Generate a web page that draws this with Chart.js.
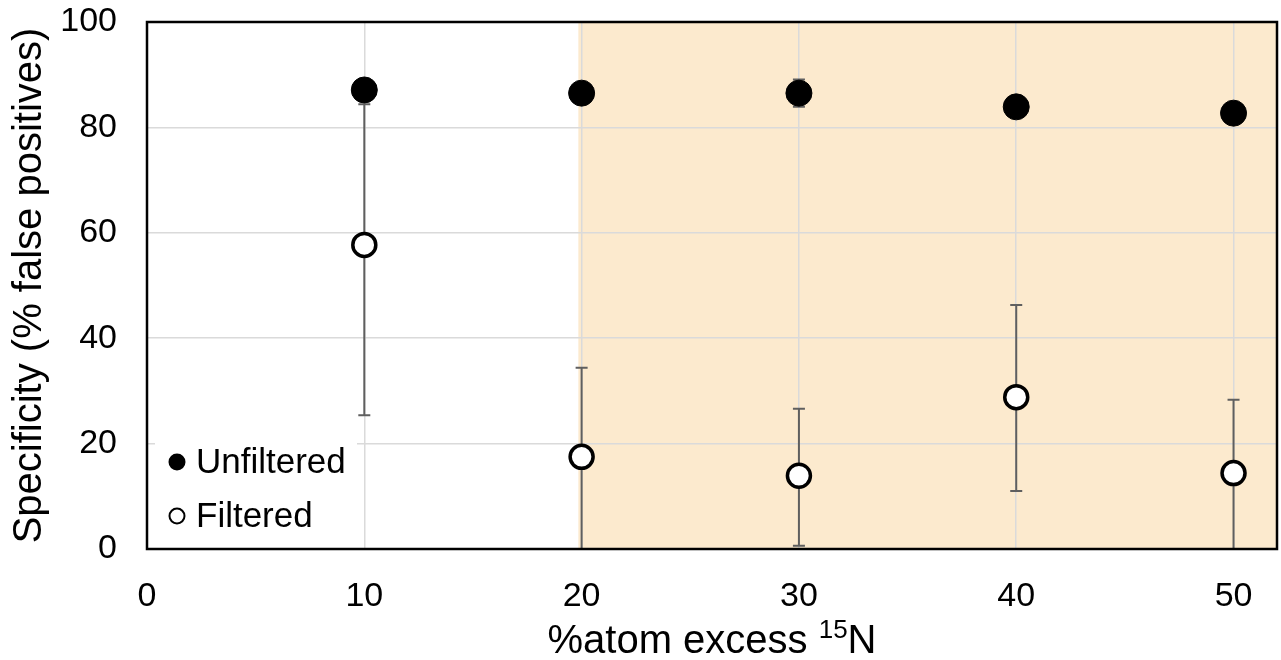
<!DOCTYPE html>
<html lang="en">
<head>
<meta charset="UTF-8">
<title>Specificity vs atom excess</title>
<script src="https://cdn.jsdelivr.net/npm/chart.js"></script>
<style>
  html, body { margin: 0; padding: 0; background: #fff; }
</style>
</head>
<body>
<canvas id="chart" width="1281" height="660"></canvas>
<script>
// %atom excess 15N and the mean specificity with its error range
const atomExcess = [10, 20, 30, 40, 50];
const unfiltered = [87.1, 86.5, 86.5, 83.9, 82.7];
const unfilteredLow = [85.1, 85.0, 83.9, 82.7, 81.7];
const unfilteredHigh = [89.1, 88.0, 89.1, 85.1, 83.7];
const filtered = [57.7, 17.5, 13.9, 28.8, 14.4];
const filteredLow = [25.4, 0, 0.6, 11.0, 0];
const filteredHigh = [84.4, 34.4, 26.6, 46.3, 28.3];
const shadedFrom = 19.85;

const FONT = "'Liberation Sans', Arial, sans-serif";

const toPoints = (ys) => atomExcess.map((x, i) => ({ x: x, y: ys[i] }));

// shaded band behind the grid
const shadePlugin = {
  id: 'shade',
  beforeDraw(chart) {
    const { ctx, chartArea: a, scales } = chart;
    const x0 = scales.x.getPixelForValue(shadedFrom);
    ctx.save();
    ctx.fillStyle = 'rgb(252,234,206)';
    ctx.fillRect(x0, a.top, a.right - x0, a.bottom - a.top);
    ctx.restore();
  }
};

// vertical error bars, drawn under the markers
const errorBarPlugin = {
  id: 'errorBars',
  beforeDatasetsDraw(chart) {
    const { ctx, chartArea: a, scales } = chart;
    ctx.save();
    ctx.beginPath();
    ctx.rect(a.left, a.top, a.right - a.left, a.bottom - a.top);
    ctx.clip();
    ctx.strokeStyle = '#5f5f5f';
    ctx.lineWidth = 2;
    chart.data.datasets.forEach((ds) => {
      ds.data.forEach((p, i) => {
        const px = scales.x.getPixelForValue(p.x);
        const yl = scales.y.getPixelForValue(ds.errLow[i]);
        const yh = scales.y.getPixelForValue(ds.errHigh[i]);
        ctx.beginPath();
        ctx.moveTo(px, yl); ctx.lineTo(px, yh);
        ctx.moveTo(px - 6, yl); ctx.lineTo(px + 6, yl);
        ctx.moveTo(px - 6, yh); ctx.lineTo(px + 6, yh);
        ctx.stroke();
      });
    });
    ctx.restore();
  }
};

// frame, legend box and x axis title with superscript
const decorPlugin = {
  id: 'decor',
  afterDraw(chart) {
    const { ctx, chartArea: a } = chart;
    ctx.save();
    ctx.strokeStyle = '#000';
    ctx.lineWidth = 2.5;
    ctx.strokeRect(a.left, a.top, a.right - a.left, a.bottom - a.top);

    // legend
    ctx.fillStyle = '#fff';
    ctx.fillRect(a.left + 8, 436, 202, a.bottom - 438);
    ctx.font = '35px ' + FONT;
    ctx.textBaseline = 'middle';
    chart.data.datasets.forEach((ds, i) => {
      const cy = 462 + i * 54;
      ctx.beginPath();
      ctx.arc(a.left + 30, cy, 7.5, 0, Math.PI * 2);
      ctx.fillStyle = ds.backgroundColor;
      ctx.fill();
      ctx.lineWidth = 2;
      ctx.strokeStyle = '#000';
      ctx.stroke();
      ctx.fillStyle = '#000';
      ctx.fillText(ds.label, a.left + 49, cy + 1);
    });

    // x title
    const main = '%atom excess ';
    const sup = '15';
    const tail = 'N';
    const big = '40px ' + FONT;
    const small = '26px ' + FONT;
    ctx.font = big;
    const w1 = ctx.measureText(main).width;
    const w3 = ctx.measureText(tail).width;
    ctx.font = small;
    const w2 = ctx.measureText(sup).width;
    const cx = (a.left + a.right) / 2;
    let x = cx - (w1 + w2 + w3) / 2;
    const base = 653;
    ctx.textBaseline = 'alphabetic';
    ctx.fillStyle = '#000';
    ctx.font = big;
    ctx.fillText(main, x, base);
    x += w1;
    ctx.font = small;
    ctx.fillText(sup, x, base - 15);
    x += w2;
    ctx.font = big;
    ctx.fillText(tail, x, base);
    ctx.restore();
  }
};

new Chart(document.getElementById('chart'), {
  type: 'scatter',
  data: {
    datasets: [
      {
        label: 'Unfiltered',
        data: toPoints(unfiltered),
        errLow: unfilteredLow,
        errHigh: unfilteredHigh,
        backgroundColor: '#000',
        borderColor: '#000',
        borderWidth: 1,
        pointRadius: 13,
        pointHoverRadius: 13
      },
      {
        label: 'Filtered',
        data: toPoints(filtered),
        errLow: filteredLow,
        errHigh: filteredHigh,
        backgroundColor: '#fff',
        borderColor: '#000',
        borderWidth: 3.5,
        pointRadius: 11.5,
        pointHoverRadius: 11.5
      }
    ]
  },
  options: {
    responsive: false,
    animation: false,
    layout: { autoPadding: false, padding: { top: 22, right: 4, left: 0, bottom: 0 } },
    plugins: {
      legend: { display: false },
      tooltip: { enabled: false }
    },
    scales: {
      x: {
        type: 'linear',
        min: 0,
        max: 52,
        afterFit(scale) {
          scale.height = 111;
          scale.paddingLeft = 0;
          scale.paddingRight = 0;
        },
        border: { display: false },
        grid: { color: '#dadada', lineWidth: 1.5, drawTicks: false },
        ticks: {
          stepSize: 10,
          includeBounds: false,
          padding: 27,
          color: '#000',
          font: { family: FONT, size: 34 }
        }
      },
      y: {
        min: 0,
        max: 100,
        afterFit(scale) {
          scale.width = 147;
          scale.paddingTop = 0;
          scale.paddingBottom = 0;
        },
        border: { display: false },
        grid: { color: '#dadada', lineWidth: 1.5, drawTicks: false },
        title: {
          display: true,
          text: 'Specificity (% false positives)',
          color: '#000',
          font: { family: FONT, size: 40 },
          padding: { top: 6, bottom: 0 }
        },
        ticks: {
          stepSize: 20,
          padding: 30,
          color: '#000',
          font: { family: FONT, size: 34 }
        }
      }
    }
  },
  plugins: [shadePlugin, errorBarPlugin, decorPlugin]
});
</script>
</body>
</html>
